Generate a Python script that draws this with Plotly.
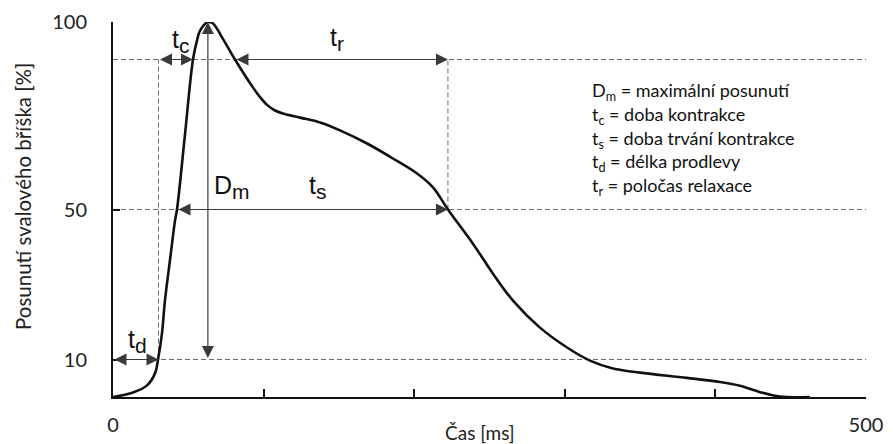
import plotly.graph_objects as go

# ---- data ----
time_ms = [0, 13.3, 22.6, 27.9, 29.9, 32.5, 34.5, 37.8, 41.2, 42.5, 47.8, 53.1, 55.8, 57.8,
           63.0, 66.4, 72.4, 81.0, 93.0, 97.6, 102.3, 107.6, 112.9, 124.2, 137.5, 150.7,
           168.7, 185.9, 201.9, 212.5, 222.4, 239.0, 252.3, 265.6, 283.5, 301.5, 316.7,
           332.0, 349.9, 381.1, 403.1, 416.3, 429.6, 442.9, 462.8]
displacement_pct = [0, 1.2, 3.1, 6.3, 10, 16.9, 25.7, 36.4, 47.1, 50, 70, 90, 95.1, 97.7,
                    100, 99.6, 95.9, 90, 82.5, 80.0, 77.9, 76.4, 75.6, 74.5, 73.2, 71.1,
                    67.6, 63.6, 59.6, 55.9, 50, 40.9, 32.9, 25.7, 18.5, 13.2, 9.7,
                    7.6, 6.5, 5.1, 4.0, 3.0, 1.3, 0.1, 0]

level_pct = [10, 50, 90]           # dashed reference levels
t_delay_end = 30.2                 # 10 % crossing (end of t_d)
t_half_rise = 42.5                 # 50 % crossing on rise
t_90_rise = 53.1                   # 90 % crossing on rise
t_peak = 63.0                      # Dm
t_90_fall = 81.0                   # 90 % crossing on fall
t_half_fall = 222.4                # 50 % crossing on fall

x_tickvals = [0, 100, 200, 300, 400, 500]
x_ticktext = ["0", "", "", "", "", "500"]
y_tickvals = [10, 50, 100]
y_ticktext = ["10", "50", "100"]

x_title = "Čas [ms]"
y_title = "Posunutí svalového bříška [%]"

legend_lines = [
    "D<sub>m</sub> = maximální posunutí",
    "t<sub>c</sub> = doba kontrakce",
    "t<sub>s</sub> = doba trvání kontrakce",
    "t<sub>d</sub> = délka prodlevy",
    "t<sub>r</sub> = poločas relaxace",
]

GREY = "#6a6a6a"
ARROW = "#3a3a3a"
DASH = "5px,3px"

# the page body adds an 8 px offset; size the figure so screen pixels line up
OFF = 8
W, H = 893 - OFF, 444 - OFF
ML, MT = 113 - OFF, 22 - OFF
MR = W - (866 - OFF)
MB = H - (397 - OFF)


def px2paper(px, py):
    px -= OFF
    py -= OFF
    return (px - ML) / (W - ML - MR), 1 - (py - MT) / (H - MT - MB)


fig = go.Figure()

shapes = []
for lv in level_pct:
    shapes.append(dict(type="line", xref="x", yref="y", x0=0, x1=500, y0=lv, y1=lv,
                       line=dict(color=GREY, width=1, dash=DASH), layer="below"))
shapes.append(dict(type="line", xref="x", yref="y", x0=t_delay_end, x1=t_delay_end,
                   y0=level_pct[0], y1=level_pct[2],
                   line=dict(color=GREY, width=1, dash=DASH), layer="below"))
shapes.append(dict(type="line", xref="x", yref="y", x0=t_half_fall, x1=t_half_fall,
                   y0=level_pct[1], y1=level_pct[2],
                   line=dict(color=GREY, width=1, dash=DASH), layer="below"))

fig.add_trace(go.Scatter(x=time_ms, y=displacement_pct, mode="lines",
                         line=dict(color="#111111", width=2.6, shape="spline", smoothing=1.0),
                         cliponaxis=False, hoverinfo="skip", showlegend=False))

annotations = []


def double_arrow(x0, y0, x1, y1):
    annotations.append(dict(x=x1, y=y1, ax=x0, ay=y0, xref="x", yref="y",
                            axref="x", ayref="y", text="", showarrow=True,
                            arrowhead=2, startarrowhead=2, arrowside="end+start",
                            arrowsize=2, startarrowsize=2, arrowwidth=1.2,
                            arrowcolor=ARROW, standoff=0, startstandoff=0))


double_arrow(0, level_pct[0], t_delay_end, level_pct[0])            # t_d
double_arrow(t_delay_end, level_pct[2], t_90_rise, level_pct[2])    # t_c
double_arrow(t_90_fall, level_pct[2], t_half_fall, level_pct[2])    # t_r
double_arrow(t_half_rise, level_pct[1], t_half_fall, level_pct[1])  # t_s
double_arrow(t_peak, level_pct[0], t_peak, 100)                     # D_m

sym_font = dict(family="Liberation Sans, Arial", size=25, color="#111")
sub = "<sub><span style='font-size:21px'>{}</span></sub>"


def sym(text, x, y):
    annotations.append(dict(x=x, y=y, xref="x", yref="y", text=text, showarrow=False,
                            font=sym_font, xanchor="center", yanchor="middle"))


sym("t" + sub.format("d"), 16, 15)
sym("t" + sub.format("c"), 44.5, 95)
sym("t" + sub.format("r"), 148.5, 95.5)
sym("D" + sub.format("m"), 79, 56)
sym("t" + sub.format("s"), 135.5, 56)

legend_y = [92, 115.5, 139, 162.5, 186]
for txt, py in zip(legend_lines, legend_y):
    px_, py_ = px2paper(590, py)
    annotations.append(dict(x=px_, y=py_, xref="paper", yref="paper", text=txt,
                            showarrow=False, xanchor="left", yanchor="middle",
                            font=dict(family="Lato", size=18, color="#111")))

# axis titles
tx, ty = px2paper(480, 432)
annotations.append(dict(x=tx, y=ty, xref="paper", yref="paper", text=x_title,
                        showarrow=False, xanchor="center", yanchor="middle",
                        font=dict(family="Lato", size=19, color="#222")))
tx, ty = px2paper(23, 197)
annotations.append(dict(x=tx, y=ty, xref="paper", yref="paper", text=y_title,
                        showarrow=False, xanchor="center", yanchor="middle", textangle=-90,
                        font=dict(family="Lato", size=20.5, color="#222")))

fig.update_layout(
    width=W, height=H,
    margin=dict(l=ML, r=MR, t=MT, b=MB, autoexpand=False),
    plot_bgcolor="white", paper_bgcolor="white",
    shapes=shapes, annotations=annotations,
    font=dict(family="Lato", size=17, color="#222"),
    xaxis=dict(range=[0, 500], showgrid=False, zeroline=False, showline=True,
               linecolor="#111", linewidth=2, ticks="inside", ticklen=8, tickwidth=2,
               tickcolor="#111", tickvals=x_tickvals, ticktext=x_ticktext,
               tickfont=dict(family="Lato", size=20, color="#222"),
               ticklabelstandoff=9, automargin=False),
    yaxis=dict(range=[0, 100], showgrid=False, zeroline=False, showline=True,
               linecolor="#111", linewidth=2, ticks="inside", ticklen=7, tickwidth=2,
               tickcolor="#111", tickvals=y_tickvals, ticktext=y_ticktext,
               tickfont=dict(family="Lato", size=20, color="#222"),
               ticklabelstandoff=20, automargin=False),
)

fig.write_html("out.html")
